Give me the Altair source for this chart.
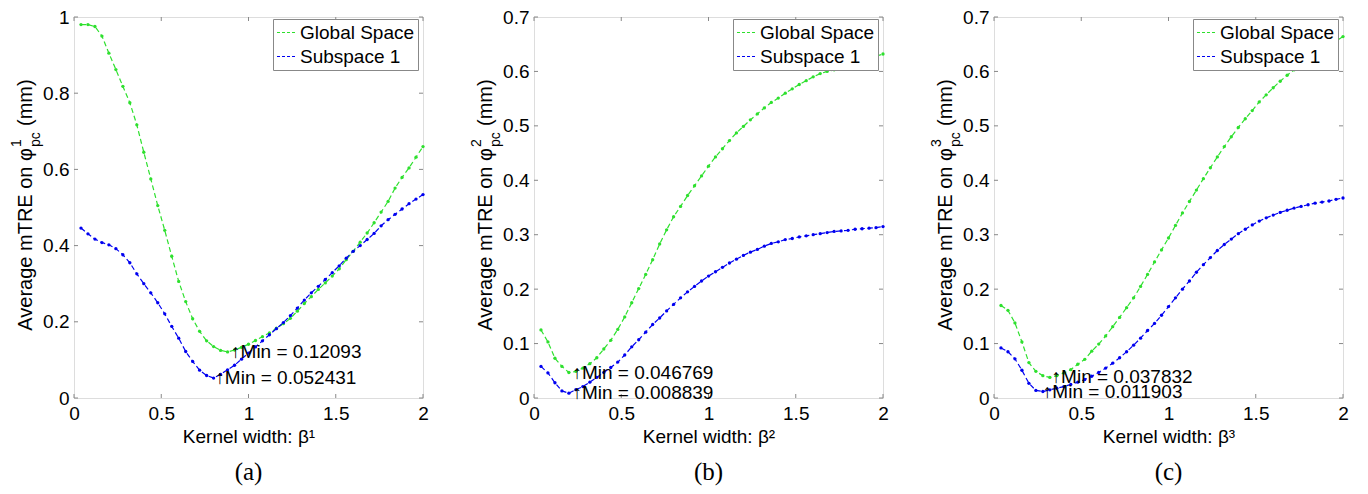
import altair as alt
import pandas as pd

# ---------------- data ----------------
X = [round(0.04 * k, 2) for k in range(1, 51)]
SERIES = ["Global Space", "Subspace 1"]
COLORS = ["#2ee02e", "#0000f0"]

A_GLOBAL = [0.980, 0.980, 0.975, 0.950, 0.905, 0.862, 0.818, 0.775, 0.717, 0.645,
            0.575, 0.505, 0.440, 0.372, 0.306, 0.253, 0.208, 0.175, 0.150, 0.135,
            0.125, 0.121, 0.126, 0.133, 0.141, 0.151, 0.161, 0.171, 0.183, 0.195,
            0.209, 0.228, 0.248, 0.266, 0.285, 0.302, 0.320, 0.339, 0.363, 0.385,
            0.409, 0.433, 0.460, 0.488, 0.516, 0.551, 0.579, 0.604, 0.632, 0.660]
A_SUB = [0.446, 0.431, 0.417, 0.408, 0.402, 0.392, 0.376, 0.355, 0.326, 0.300,
         0.276, 0.250, 0.221, 0.188, 0.157, 0.122, 0.096, 0.073, 0.059, 0.0524,
         0.062, 0.074, 0.086, 0.102, 0.118, 0.134, 0.150, 0.166, 0.182, 0.198,
         0.216, 0.236, 0.257, 0.276, 0.293, 0.311, 0.329, 0.347, 0.367, 0.385,
         0.400, 0.416, 0.432, 0.452, 0.468, 0.482, 0.496, 0.510, 0.522, 0.534]
B_GLOBAL = [0.125, 0.103, 0.073, 0.058, 0.0468, 0.049, 0.055, 0.063, 0.074, 0.090,
            0.106, 0.126, 0.149, 0.175, 0.201, 0.227, 0.254, 0.283, 0.309, 0.333,
            0.352, 0.372, 0.390, 0.408, 0.426, 0.443, 0.458, 0.473, 0.487, 0.499,
            0.511, 0.522, 0.533, 0.543, 0.551, 0.560, 0.568, 0.576, 0.583, 0.590,
            0.596, 0.600, 0.603, 0.607, 0.610, 0.615, 0.620, 0.624, 0.628, 0.632]
B_SUB = [0.058, 0.046, 0.028, 0.013, 0.0088, 0.0153, 0.021, 0.029, 0.038, 0.047,
         0.056, 0.066, 0.079, 0.094, 0.107, 0.121, 0.135, 0.147, 0.160, 0.172,
         0.184, 0.195, 0.205, 0.215, 0.224, 0.232, 0.240, 0.248, 0.255, 0.262,
         0.268, 0.273, 0.279, 0.284, 0.287, 0.291, 0.293, 0.296, 0.298, 0.300,
         0.302, 0.304, 0.306, 0.307, 0.308, 0.310, 0.311, 0.312, 0.313, 0.315]
C_GLOBAL = [0.170, 0.161, 0.138, 0.103, 0.065, 0.049, 0.041, 0.0378, 0.041, 0.046,
            0.052, 0.062, 0.071, 0.086, 0.099, 0.114, 0.131, 0.148, 0.166, 0.184,
            0.205, 0.227, 0.250, 0.272, 0.294, 0.317, 0.340, 0.361, 0.382, 0.403,
            0.423, 0.443, 0.462, 0.480, 0.497, 0.513, 0.528, 0.544, 0.557, 0.570,
            0.582, 0.593, 0.603, 0.612, 0.620, 0.629, 0.639, 0.648, 0.656, 0.664]
C_SUB = [0.092, 0.085, 0.072, 0.051, 0.027, 0.014, 0.0119, 0.015, 0.018, 0.021,
         0.025, 0.029, 0.034, 0.040, 0.047, 0.055, 0.064, 0.074, 0.085, 0.097,
         0.110, 0.124, 0.137, 0.152, 0.168, 0.184, 0.200, 0.215, 0.231, 0.245,
         0.258, 0.271, 0.282, 0.292, 0.302, 0.310, 0.318, 0.325, 0.331, 0.336,
         0.341, 0.345, 0.349, 0.352, 0.355, 0.358, 0.360, 0.362, 0.365, 0.3675]

ANN_A = {"x": [0.90, 0.81], "y": [0.12093, 0.052431], "t": ["↑Min = 0.12093", "↑Min = 0.052431"]}
ANN_B = {"x": [0.22, 0.22], "y": [0.046769, 0.008839], "t": ["↑Min = 0.046769", "↑Min = 0.008839"]}
ANN_C = {"x": [0.33, 0.28], "y": [0.037832, 0.011903], "t": ["↑Min = 0.037832", "↑Min = 0.011903"]}

XTICKS = [0, 0.5, 1, 1.5, 2]
YTICKS_A = [0, 0.2, 0.4, 0.6, 0.8, 1]
YTICKS_BC = [0, 0.1, 0.2, 0.3, 0.4, 0.5, 0.6, 0.7]

W, H = 349, 381
FONT = "Liberation Sans"
FS = 19
TICKC = "#888888"
TL = 4


def panel(glob, sub, ymax, yticks, ann, sup, letter):
    df = pd.DataFrame({"x": X * 2, "v": glob + sub,
                       "s": [SERIES[0]] * len(X) + [SERIES[1]] * len(X)})
    xtitle = "Kernel width: β" + sup
    xenc = alt.X("x:Q", title=xtitle,
                 scale=alt.Scale(domain=[0, 2], nice=False, zero=False),
                 axis=alt.Axis(values=XTICKS, format="~g", labelFlush=False, tickSize=0,
                               domain=False, grid=False, labelPadding=6,
                               labelFontSize=FS, labelFont=FONT, labelColor="black",
                               titleFont=FONT, titleFontSize=FS, titleFontWeight="normal",
                               titleColor="black", titlePadding=4))
    yenc = alt.Y("v:Q", title=None,
                 scale=alt.Scale(domain=[0, ymax], nice=False),
                 axis=alt.Axis(values=yticks, format="~g", labelFlush=False, tickSize=0,
                               domain=False, grid=False, labelPadding=5,
                               labelFontSize=FS, labelFont=FONT, labelColor="black"))
    cscale = alt.Scale(domain=SERIES, range=COLORS)
    legend = alt.Legend(orient="none", legendX=199, legendY=2, title=None,
                        symbolType="stroke", symbolStrokeWidth=1.2, symbolDash=[3, 2],
                        symbolSize=361, labelFontSize=FS, labelFont=FONT, labelColor="black",
                        padding=3, strokeColor=TICKC, fillColor="white", rowPadding=3,
                        labelOffset=3, symbolOpacity=1)
    base = alt.Chart(df)
    lines = base.mark_line(strokeDash=[5, 3], strokeWidth=1.2).encode(
        x=xenc, y=yenc, color=alt.Color("s:N", scale=cscale, legend=legend))
    pts = base.mark_circle(size=11, opacity=1).encode(
        x=xenc, y=yenc, color=alt.Color("s:N", scale=cscale, legend=None))

    xt = alt.Chart(pd.DataFrame({"x": XTICKS}))
    yt = alt.Chart(pd.DataFrame({"v": yticks}))
    tick_bot = xt.mark_rule(color=TICKC).encode(x=xenc, y=alt.value(H), y2=alt.value(H - TL))
    tick_top = xt.mark_rule(color=TICKC).encode(x=xenc, y=alt.value(0), y2=alt.value(TL))
    tick_l = yt.mark_rule(color=TICKC).encode(y=yenc, x=alt.value(0), x2=alt.value(TL))
    tick_r = yt.mark_rule(color=TICKC).encode(y=yenc, x=alt.value(W - TL), x2=alt.value(W))

    adf = pd.DataFrame(ann)
    ann_layer = alt.Chart(adf).mark_text(align="left", baseline="middle", font=FONT,
                                         fontSize=FS, color="black").encode(
        x=alt.X("x:Q"), y=alt.Y("y:Q"), text="t:N")

    # y-axis title built from pieces (phi with superscript and "pc" subscript)
    one = alt.Chart(pd.DataFrame({"t": [0]}))
    ycx = -48
    anchor = 131
    digit = {"¹": "1", "²": "2", "³": "3"}[sup]
    t1 = one.mark_text(text="Average mTRE on φ", angle=270, align="right", baseline="middle",
                       font=FONT, fontSize=20, color="black").encode(
        x=alt.value(ycx), y=alt.value(anchor))
    t2 = one.mark_text(text=digit, angle=270, align="left",
                       baseline="middle", font=FONT, fontSize=14, color="black").encode(
        x=alt.value(ycx - 9), y=alt.value(anchor - 1))
    t3 = one.mark_text(text="pc", angle=270, align="left", baseline="middle",
                       font=FONT, fontSize=14, color="black").encode(
        x=alt.value(ycx + 10), y=alt.value(anchor - 1))
    t4 = one.mark_text(text="(mm)", angle=270, align="left", baseline="middle",
                       font=FONT, fontSize=20, color="black").encode(
        x=alt.value(ycx), y=alt.value(anchor - 22))

    return alt.layer(tick_bot, tick_top, tick_l, tick_r, lines, pts, ann_layer,
                     t1, t2, t3, t4).properties(
        width=W, height=H,
        title=alt.TitleParams(letter, orient="bottom", font="Liberation Serif", fontSize=25,
                              fontWeight="normal", color="black", anchor="middle", offset=14))


pa = panel(A_GLOBAL, A_SUB, 1.0, YTICKS_A, ANN_A, "¹", "(a)")
pb = panel(B_GLOBAL, B_SUB, 0.7, YTICKS_BC, ANN_B, "²", "(b)")
pc = panel(C_GLOBAL, C_SUB, 0.7, YTICKS_BC, ANN_C, "³", "(c)")

chart = alt.hconcat(pa, pb, pc, spacing=111, bounds="flush").resolve_scale(
    color="independent", x="independent", y="independent").resolve_legend(
    color="independent").properties(
    padding={"left": 1, "top": -1, "right": 0, "bottom": 0}).configure_view(
    stroke=TICKC, strokeWidth=1).configure(background="white")

chart.save("out.html", embed_options={"renderer": "svg", "actions": False})
